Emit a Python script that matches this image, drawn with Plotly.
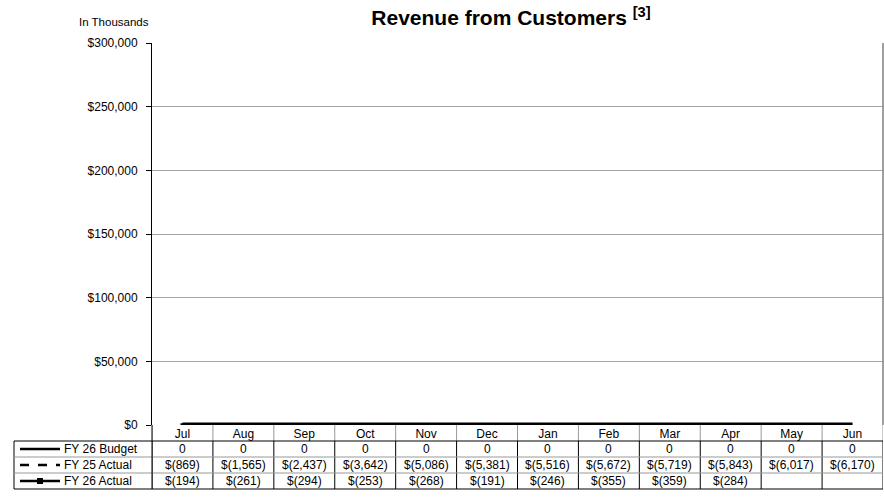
import plotly.graph_objects as go

# Monthly revenue from customers, in thousands
months = ["Jul", "Aug", "Sep", "Oct", "Nov", "Dec", "Jan", "Feb", "Mar", "Apr", "May", "Jun"]
fy26_budget = [0, 0, 0, 0, 0, 0, 0, 0, 0, 0, 0, 0]
fy25_actual = [-869, -1565, -2437, -3642, -5086, -5381, -5516, -5672, -5719, -5843, -6017, -6170]
fy26_actual = [-194, -261, -294, -253, -268, -191, -246, -355, -359, -284, None, None]

series_names = ["FY 26 Budget", "FY 25 Actual", "FY 26 Actual"]
y_ticks = [0, 50000, 100000, 150000, 200000, 250000, 300000]
y_tick_text = ["$0", "$50,000", "$100,000", "$150,000", "$200,000", "$250,000", "$300,000"]

W, H = 884, 497
L, R, T, B = 152, 883, 43, 425  # plot area in pixels
FONT = "Liberation Sans, Arial, sans-serif"
FS = 12


def px_x(px):
    return (px - L) / (R - L)


def px_y(py):
    return (B - py) / (B - T)


def fmt(v):
    if v is None:
        return ""
    if v == 0:
        return "0"
    if v < 0:
        return "$({:,})".format(-v)
    return "${:,}".format(v)


fig = go.Figure()
fig.add_trace(go.Scatter(x=months, y=fy25_actual, mode="lines", name=series_names[1],
                         line=dict(color="black", width=3, dash="dash")))
fig.add_trace(go.Scatter(x=months, y=fy26_actual, mode="lines+markers", name=series_names[2],
                         line=dict(color="black", width=3),
                         marker=dict(symbol="square", size=4, color="black")))
fig.add_trace(go.Scatter(x=months, y=fy26_budget, mode="lines", name=series_names[0],
                         line=dict(color="black", width=5)))

shapes = []
annotations = []

row_h = 16
header_top = B
rows_top = B + row_h  # first data row top
n_rows = len(series_names)
table_bottom = rows_top + n_rows * row_h
legend_left = 14

# Vertical separators in the month header row (light) and data rows (dark)
for i in range(len(months) + 1):
    xv = i - 0.5
    shapes.append(dict(type="line", xref="x", yref="paper", x0=xv, x1=xv,
                       y0=px_y(header_top), y1=px_y(rows_top),
                       line=dict(color="#999999", width=1)))
    shapes.append(dict(type="line", xref="x", yref="paper", x0=xv, x1=xv,
                       y0=px_y(rows_top), y1=px_y(table_bottom),
                       line=dict(color="black", width=1)))

# Legend column left border
shapes.append(dict(type="line", xref="paper", yref="paper", x0=px_x(legend_left), x1=px_x(legend_left),
                   y0=px_y(rows_top), y1=px_y(table_bottom),
                   line=dict(color="black", width=1)))

# Horizontal rules of the table
for k in range(n_rows + 1):
    yy = rows_top + k * row_h
    color = "black" if k in (0, n_rows) else "#999999"
    shapes.append(dict(type="line", xref="paper", yref="paper", x0=px_x(legend_left), x1=px_x(R),
                       y0=px_y(yy), y1=px_y(yy), line=dict(color=color, width=1)))

# Legend keys and labels
key_x0, key_x1 = 20, 60
dashes = ["solid", "dash", "solid"]
for k, name in enumerate(series_names):
    cy = rows_top + k * row_h + row_h / 2
    shapes.append(dict(type="line", xref="paper", yref="paper", x0=px_x(key_x0), x1=px_x(key_x1),
                       y0=px_y(cy), y1=px_y(cy),
                       line=dict(color="black", width=2.5, dash=dashes[k])))
    if k == 2:
        mx = (key_x0 + key_x1) / 2
        shapes.append(dict(type="rect", xref="paper", yref="paper",
                           x0=px_x(mx - 3), x1=px_x(mx + 3), y0=px_y(cy + 3), y1=px_y(cy - 3),
                           fillcolor="black", line=dict(color="black", width=0)))
    annotations.append(dict(xref="paper", yref="paper", x=px_x(62), y=px_y(cy),
                            text=name, showarrow=False, xanchor="left", yanchor="middle",
                            font=dict(family=FONT, size=FS, color="black")))

# Table values
for k, values in enumerate([fy26_budget, fy25_actual, fy26_actual]):
    cy = rows_top + k * row_h + row_h / 2
    for m, v in zip(months, values):
        annotations.append(dict(xref="x", yref="paper", x=m, y=px_y(cy), text=fmt(v),
                                showarrow=False, xanchor="center", yanchor="middle",
                                font=dict(family=FONT, size=FS, color="black")))

# Unit note
annotations.append(dict(xref="paper", yref="paper", x=px_x(77), y=px_y(22), text="In Thousands",
                        showarrow=False, xanchor="left", yanchor="middle",
                        font=dict(family=FONT, size=11.5, color="black")))

# Right border of plot area
shapes.append(dict(type="line", xref="paper", yref="paper", x0=1, x1=1, y0=0, y1=1,
                   line=dict(color="#808080", width=1.5)))
# Y axis line extended down through the table
shapes.append(dict(type="line", xref="paper", yref="paper", x0=0, x1=0,
                   y0=px_y(header_top), y1=px_y(table_bottom),
                   line=dict(color="black", width=1)))

fig.update_layout(
    width=W, height=H,
    margin=dict(l=L, r=W - R, t=T, b=H - B),
    paper_bgcolor="white", plot_bgcolor="white",
    showlegend=False,
    font=dict(family=FONT, size=FS, color="black"),
    title=dict(text="<b>Revenue from Customers <sup>[3]</sup></b>", x=px_x(511), xref="paper",
               xanchor="center", y=1 - 18 / H, yanchor="middle",
               font=dict(family=FONT, size=21, color="black")),
    xaxis=dict(type="category", range=[-0.5, 11.5], showgrid=False, showline=False,
               ticks="", tickfont=dict(family=FONT, size=FS, color="black"),
               fixedrange=True, zeroline=False),
    yaxis=dict(range=[0, 300000], tickvals=y_ticks, ticktext=y_tick_text,
               showgrid=True, gridcolor="#a6a6a6", gridwidth=1,
               showline=True, linecolor="black", linewidth=1,
               ticks="outside", ticklen=5, tickcolor="black", ticklabelstandoff=6,
               tickfont=dict(family=FONT, size=FS, color="black"),
               zeroline=False, fixedrange=True),
    shapes=shapes,
    annotations=annotations,
)

fig.write_html("out.html")
